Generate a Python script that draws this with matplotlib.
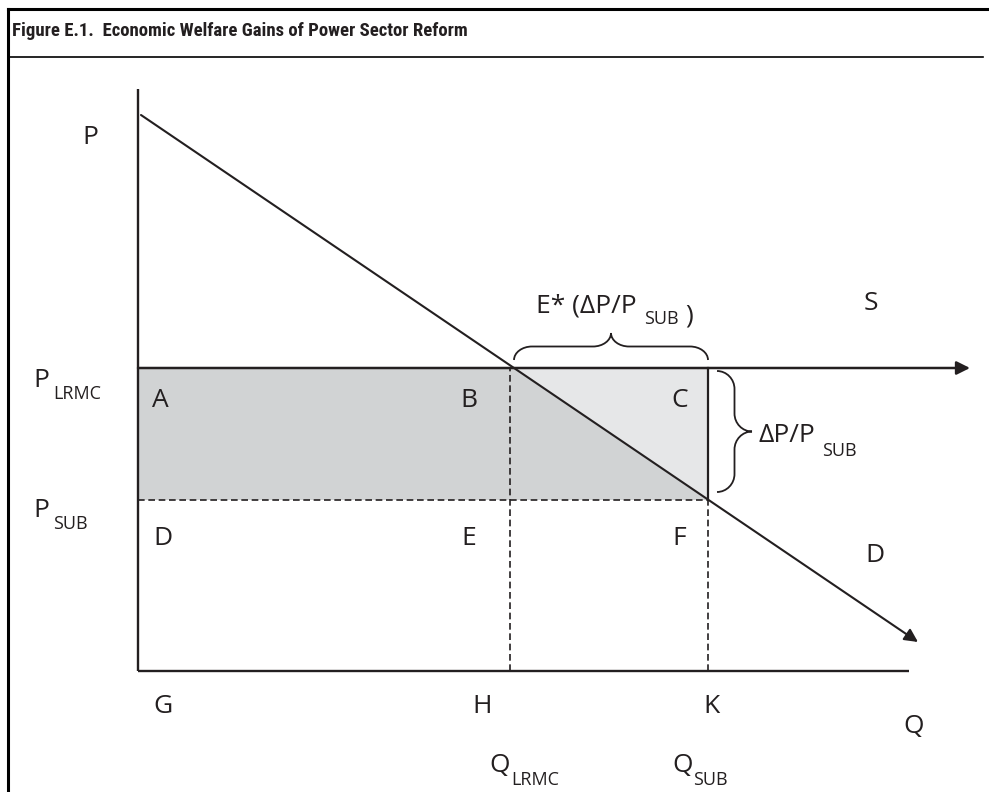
import numpy as np
import matplotlib
matplotlib.use('Agg')
import matplotlib.pyplot as plt
from matplotlib.path import Path
from matplotlib.patches import PathPatch, Polygon
from matplotlib.lines import Line2D

# diagram values (arbitrary units: quantity Q, price P)
Q_LRMC = 37.2
Q_SUB = 57.0
P_LRMC = 30.3
P_SUB = 17.1
Q_AXIS = 77.1
P_AXIS = 58.2
demand_q = [0.3, 78.0]
demand_p = [55.6, 2.9]
supply_q = [0.0, 83.2]
supply_p = [P_LRMC, P_LRMC]

INK = '#231f20'
DARK = '#d1d3d4'
LIGHT = '#e6e7e8'
FONT = ['Open Sans', 'DejaVu Sans']
TITLE_FONT = ['Roboto Condensed', 'Lato', 'DejaVu Sans']

W, H = 989, 792
fig = plt.figure(figsize=(W / 100, H / 100), dpi=100)
ax = fig.add_axes([138 / W, 121 / H, 771 / W, 582 / H])
ax.set_xlim(0, Q_AXIS)
ax.set_ylim(0, P_AXIS)
ax.axis('off')

# where demand meets the LRMC price
q_cross = np.interp(P_LRMC, demand_p[::-1], demand_q[::-1])

# shaded areas
ax.add_patch(Polygon([(0, P_SUB), (0, P_LRMC), (q_cross, P_LRMC), (Q_SUB, P_SUB)],
                     closed=True, fc=DARK, ec='none', zorder=1))
ax.add_patch(Polygon([(q_cross, P_LRMC), (Q_SUB, P_LRMC), (Q_SUB, P_SUB)],
                     closed=True, fc=LIGHT, ec='none', zorder=1))

# dashed guides
dash = dict(color=INK, lw=1.2, dashes=(4, 2.2), zorder=2, clip_on=False)
ax.plot([0, Q_SUB], [P_SUB, P_SUB], **dash)
ax.plot([Q_LRMC, Q_LRMC], [0, P_LRMC], **dash)
ax.plot([Q_SUB, Q_SUB], [0, P_SUB], **dash)

# solid edge of the triangle
ax.plot([Q_SUB, Q_SUB], [P_SUB, P_LRMC], color=INK, lw=1.6, zorder=3, clip_on=False)

# axes
ax.plot([0, 0], [0, P_AXIS], color=INK, lw=1.7, zorder=4, clip_on=False, solid_capstyle='butt')
ax.plot([0, Q_AXIS], [0, 0], color=INK, lw=1.7, zorder=4, clip_on=False, solid_capstyle='butt')

# supply and demand with arrows
arrow = dict(arrowstyle='-|>', color=INK, mutation_scale=20, shrinkA=0, shrinkB=0)
ax.annotate('', xy=(supply_q[1], supply_p[1]), xytext=(supply_q[0], supply_p[0]),
            arrowprops=dict(lw=1.8, **arrow), annotation_clip=False, zorder=5)
ax.annotate('', xy=(demand_q[1], demand_p[1]), xytext=(demand_q[0], demand_p[0]),
            arrowprops=dict(lw=1.5, **arrow), annotation_clip=False, zorder=5)


def brace(a, b, base, depth, vertical=False, ru=1.8):
    s = 1 if b > a else -1
    m = (a + b) / 2
    h = depth / 2
    r = ru * s
    pts = [(a, 0), (a, 0.55 * h), (a + 0.45 * r, h), (a + r, h),
           (m - r, h),
           (m - 0.45 * r, h), (m, 1.45 * h), (m, 2 * h),
           (m, 1.45 * h), (m + 0.45 * r, h), (m + r, h),
           (b - r, h),
           (b - 0.45 * r, h), (b, 0.55 * h), (b, 0)]
    codes = [Path.MOVETO] + [Path.CURVE4] * 3 + [Path.LINETO] + [Path.CURVE4] * 6 + \
            [Path.LINETO] + [Path.CURVE4] * 3
    if vertical:
        verts = [(base + v, u) for u, v in pts]
    else:
        verts = [(u, base + v) for u, v in pts]
    ax.add_patch(PathPatch(Path(verts, codes), fc='none', ec=INK, lw=1.3,
                           clip_on=False, zorder=5))


brace(q_cross, Q_SUB, 31.1, 2.7)
brace(30.0, 17.9, 57.9, 3.5, vertical=True)

# labels
BIG = 19
SMALL = 13


def label(x, y, main, sub=None, gap=5, drop=5, tail=None, tail_gap=3):
    t = ax.text(x, y, main, fontsize=BIG, family=FONT, color=INK,
                ha='left', va='baseline', clip_on=False)
    if sub is not None:
        s = ax.annotate(sub, xy=(1, 0), xycoords=t, xytext=(gap, -drop),
                        textcoords='offset points', fontsize=SMALL, family=FONT,
                        color=INK, ha='left', va='baseline', annotation_clip=False)
        if tail is not None:
            ax.annotate(tail, xy=(1, 0), xycoords=s, xytext=(tail_gap, drop),
                        textcoords='offset points', fontsize=BIG, family=FONT,
                        color=INK, ha='left', va='baseline', annotation_clip=False)
    return t


label(-5.6, 52.7, 'P')
label(-10.5, 28.4, 'P', 'LRMC', gap=3, drop=4)
label(-10.5, 15.4, 'P', 'SUB', gap=3, drop=4.5)
for txt, x, y in [('A', 1.4, 26.4), ('B', 32.2, 26.4), ('C', 53.3, 26.4),
                  ('D', 1.5, 12.6), ('E', 32.3, 12.6), ('F', 53.4, 12.6),
                  ('D', 72.7, 10.9), ('S', 72.6, 36.1),
                  ('G', 1.5, -4.2), ('H', 33.4, -4.2), ('K', 56.5, -4.2),
                  ('Q', 76.5, -6.2)]:
    label(x, y, txt)
label(35.1, -10.1, 'Q', 'LRMC', gap=1, drop=5)
label(53.4, -10.1, 'Q', 'SUB', gap=0.5, drop=5)
label(39.8, 35.9, 'E* (\u0394P/P', 'SUB', gap=5, drop=4, tail=')', tail_gap=5)
label(62.0, 22.9, '\u0394P/P', 'SUB', gap=5, drop=6)

# frame and title
fig.add_artist(Line2D([8 / W, 8 / W], [0, 1 - 9 / H], color='black', lw=2.2))
fig.add_artist(Line2D([8 / W, 1], [1 - 9 / H, 1 - 9 / H], color='black', lw=2.2))
fig.add_artist(Line2D([8 / W, 983 / W], [1 - 57 / H, 1 - 57 / H], color='black', lw=1.2))
fig.text(12 / W, 1 - 36 / H, 'Figure E.1.  Economic Welfare Gains of Power Sector Reform',
         fontsize=13.5, fontweight='bold', family=TITLE_FONT, color=INK,
         ha='left', va='baseline')

fig.savefig('out.png', dpi=100)
